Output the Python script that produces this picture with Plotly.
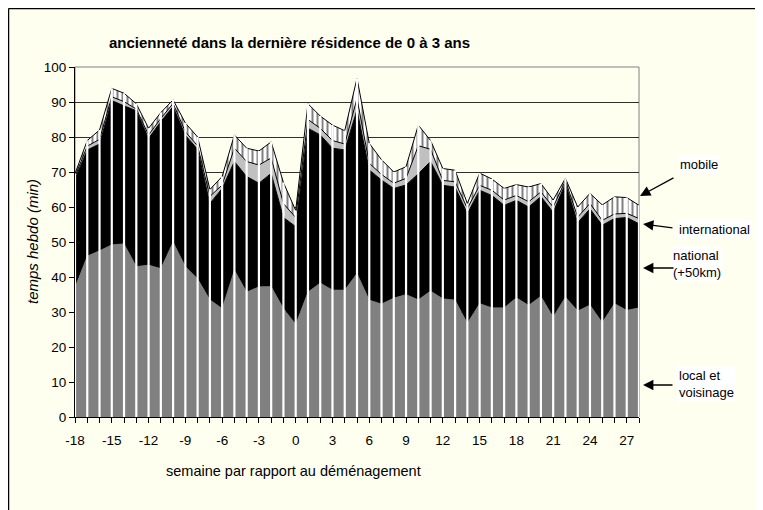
import numpy as np
import plotly.graph_objects as go

weeks = list(range(-18, 29))
local = [37, 46, 47.5, 49.2, 49.5, 43, 43.4, 42.4, 50, 43, 39.5, 33.5, 31, 42, 35.7, 37.2, 37.3, 31,
         26.5, 35.7, 38.3, 36.3, 36.3, 41, 33.4, 32.3, 34, 35, 33.5, 36, 33.8, 33.4, 26.8, 32.4, 31.2,
         31.2, 34.1, 31.9, 34.5, 28.6, 34.3, 30.3, 32, 27, 32.4, 30.5, 31.2]
national = [31, 30.3, 30.5, 41.2, 39.4, 44.5, 36.2, 42, 38.7, 37.5, 37, 27.5, 34.3, 31, 33, 29.6, 32.3, 26,
            27.9, 46.8, 42.3, 40.5, 40, 46.7, 37.2, 35.4, 31.3, 31.3, 36, 37, 32.4, 32.3, 31.3, 32.4, 32.1,
            29.3, 27.8, 28.1, 28.5, 29.9, 32.4, 25.2, 27.5, 27.8, 24.3, 26.5, 24]
international = [0.7, 1.1, 1.3, 1.1, 1.2, 0.5, 1.0, 0.9, 0.9, 1.0, 1.0, 2.0, 1.0, 3.8, 4.3, 5.2, 4.4, 4,
                 2.6, 2.5, 1.9, 2.2, 1.7, 3.3, 1.9, 1.6, 1.5, 1.9, 8, 3.5, 1.4, 1.5, 1.5, 1.4, 1.5,
                 1.5, 1.4, 1.5, 1.3, 1.5, 0.8, 1.6, 1.5, 1.4, 1.3, 1.2, 1.5]
mobile = [0.8, 1.6, 2.7, 2.4, 2.4, 1.5, 1.9, 1.7, 1.0, 2.5, 2.5, 2.0, 2.4, 3.8, 3.8, 4.0, 4.6, 6,
          2, 4.5, 3.5, 4.4, 3.8, 5.8, 5.7, 4.2, 3.2, 3.3, 5.9, 2.5, 3.4, 3.3, 1.4, 3.5, 3.2,
          3.3, 3.1, 4.2, 2.4, 2, 0.7, 2.9, 2.9, 4.4, 4.9, 4.5, 3.8]
x_tick_vals = list(range(-18, 28, 3))
x_tick_text = [str(v) for v in x_tick_vals]
y_tick_vals = list(range(0, 101, 10))

title_text = "ancienneté dans la dernière résidence de 0 à 3 ans"
x_title = "semaine par rapport au déménagement"
y_title = "temps hebdo (min)"

FONT = "Liberation Sans, Arial, sans-serif"
BG = "#FFFFF0"

fig = go.Figure()
fig.add_trace(go.Scatter(x=weeks, y=local, stackgroup="s", mode="lines",
                         line=dict(color="#808080", width=0.5), fillcolor="#808080", name="local et voisinage"))
fig.add_trace(go.Scatter(x=weeks, y=national, stackgroup="s", mode="lines",
                         line=dict(color="black", width=1), fillcolor="black", name="national (+50km)"))
fig.add_trace(go.Scatter(x=weeks, y=international, stackgroup="s", mode="lines",
                         line=dict(color="black", width=1), fillcolor="#C0C0C0", name="international"))
fig.add_trace(go.Scatter(x=weeks, y=mobile, stackgroup="s", mode="lines",
                         line=dict(color="black", width=1),
                         fillpattern=dict(shape="|", fgcolor="black", bgcolor="white", size=5, solidity=0.4),
                         name="mobile"))

total = np.array(local) + np.array(national) + np.array(international) + np.array(mobile)
dx, dy = [], []
for w, t in zip(weeks, total):
    dx += [w, w, None]
    dy += [0, float(t), None]
fig.add_trace(go.Scatter(x=dx, y=dy, mode="lines", line=dict(color="white", width=2.2),
                         hoverinfo="skip", showlegend=False))

# screen pixel -> paper coords (plot area spans x 75..639, y 67..417 on screen)
def px2paper(px, py):
    return (px - 75) / 564, (417 - py) / 350

annotations = []
tx, ty = px2paper(289, 42)
annotations.append(dict(text="<b>" + title_text + "</b>", x=tx, y=ty, xref="paper", yref="paper",
                        xanchor="center", yanchor="middle", showarrow=False,
                        font=dict(family=FONT, size=15, color="black")))
tx, ty = px2paper(293, 471)
annotations.append(dict(text=x_title, x=tx, y=ty, xref="paper", yref="paper",
                        xanchor="center", yanchor="middle", showarrow=False,
                        font=dict(family=FONT, size=14.5, color="black")))
tx, ty = px2paper(32, 242)
annotations.append(dict(text="<i>" + y_title + "</i>", x=tx, y=ty, xref="paper", yref="paper",
                        xanchor="center", yanchor="middle", textangle=-90, showarrow=False,
                        font=dict(family=FONT, size=15, color="black")))

labels = [("mobile", 678, 164, (640, 196), (675, 177)),
          ("international", 677, 229, (643, 224), (674, 228)),
          ("national<br>(+50km)", 671, 264, (643, 268), (675, 268)),
          ("local et<br>voisinage", 677, 384, (643, 385), (674, 385))]
for txt, lx, ly, head, tail in labels:
    ax_, ay_ = px2paper(lx, ly)
    annotations.append(dict(text=txt, x=ax_, y=ay_, xref="paper", yref="paper", xanchor="left",
                            yanchor="middle", align="left", showarrow=False, bgcolor="white",
                            font=dict(family=FONT, size=13, color="black")))
    hx, hy = px2paper(*head)
    annotations.append(dict(text="", x=hx, y=hy, xref="paper", yref="paper", showarrow=True,
                            ax=tail[0] - head[0], ay=tail[1] - head[1], arrowhead=2, arrowsize=1.6,
                            arrowwidth=1.3, arrowcolor="black"))

fig.update_layout(
    width=755, height=502,
    margin=dict(l=67, r=124, t=59, b=93),
    paper_bgcolor=BG, plot_bgcolor=BG,
    showlegend=False,
    font=dict(family=FONT, size=13, color="black"),
    annotations=annotations,
    shapes=[
        dict(type="rect", xref="paper", yref="paper", x0=0, x1=1, y0=0, y1=1,
             line=dict(color="#808080", width=1), layer="below"),
        dict(type="line", xref="paper", yref="paper", x0=(8.5 - 75) / 564, x1=(8.5 - 75) / 564,
             y0=(417 - 600) / 350, y1=(417 - 8.5) / 350, line=dict(color="black", width=1.5)),
        dict(type="line", xref="paper", yref="paper", x0=(8.5 - 75) / 564, x1=(900 - 75) / 564,
             y0=(417 - 8.5) / 350, y1=(417 - 8.5) / 350, line=dict(color="black", width=1.5)),
    ],
)
fig.update_xaxes(range=[-18, 28], tickmode="array", tickvals=x_tick_vals, ticktext=x_tick_text,
                 ticks="outside", ticklen=5, tickcolor="black", showline=True, linecolor="black",
                 linewidth=1, showgrid=False, zeroline=False, ticklabelstandoff=6,
                 tickfont=dict(size=13.5),
                 minor=dict(tickmode="linear", dtick=1, tick0=-18, ticks="outside", ticklen=5,
                            tickcolor="black", showgrid=False))
fig.update_yaxes(range=[0, 100], tickmode="array", tickvals=y_tick_vals, ticks="outside", ticklen=5,
                 tickcolor="black", showline=True, linecolor="black", linewidth=1, showgrid=True,
                 gridcolor="#303030", gridwidth=1, zeroline=False, tickfont=dict(size=13.5),
                 layer="below traces")

fig.write_html("out.html")
